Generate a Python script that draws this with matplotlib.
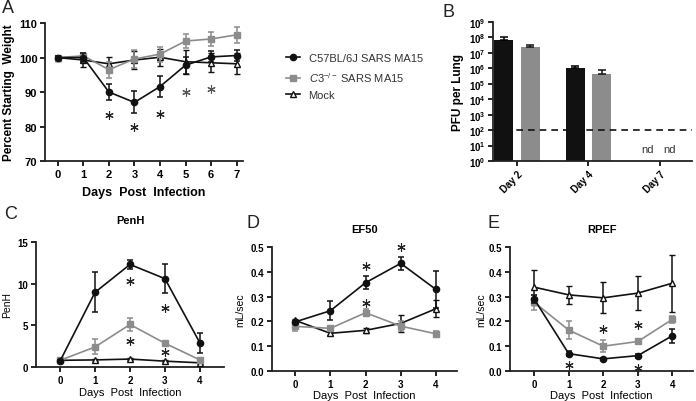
import numpy as np
import matplotlib
matplotlib.use('Agg')
import matplotlib.pyplot as plt
from matplotlib.lines import Line2D

plt.rcParams['font.family'] = ['Liberation Sans', 'DejaVu Sans']
plt.rcParams['mathtext.fontset'] = 'custom'
plt.rcParams['mathtext.rm'] = 'Liberation Sans'
plt.rcParams['mathtext.it'] = 'Liberation Sans:italic'
plt.rcParams['mathtext.bf'] = 'Liberation Sans:bold'

# ---- data ----
days_a = [0, 1, 2, 3, 4, 5, 6, 7]
wt_b6 = [100, 100, 90.0, 87.0, 91.6, 97.8, 100.2, 100.6]
wt_b6_err = [0.5, 1.2, 2.3, 3.2, 3.0, 2.5, 1.6, 1.6]
wt_c3 = [100, 100.5, 96.5, 99.6, 101.0, 104.8, 105.4, 106.6]
wt_c3_err = [0.5, 0.8, 2.3, 2.5, 2.2, 2.0, 2.0, 2.4]
wt_mock = [100, 99.3, 98.2, 99.3, 100.1, 98.8, 98.5, 98.2]
wt_mock_err = [0.5, 2.0, 2.0, 2.6, 2.5, 3.5, 2.8, 3.0]
star_a_x = [2, 3, 4, 5, 6]
star_a_y = [83.3, 80.0, 83.6, 90.0, 91.0]
star_a_col = ['#222222', '#222222', '#222222', '#555555', '#555555']

pfu_days = ['Day 2', 'Day 4', 'Day 7']
pfu_b6 = [6.6e7, 1.0e6]
pfu_b6_err = [3.4e7, 4.0e5]
pfu_c3 = [2.4e7, 4.0e5]
pfu_c3_err = [1.0e7, 3.6e5]
pfu_limit = 100

days = [0, 1, 2, 3, 4]
penh_b6 = [0.72, 8.96, 12.3, 10.6, 2.9]
penh_b6_err = [0.1, 2.4, 0.5, 1.7, 1.2]
penh_c3 = [0.8, 2.4, 5.1, 2.85, 0.85]
penh_c3_err = [0.1, 0.9, 0.8, 0.2, 0.1]
penh_mock = [0.8, 0.85, 0.95, 0.7, 0.5]
penh_mock_err = [0.1, 0.1, 0.1, 0.1, 0.1]
star_c_x = [2, 2, 3, 3]
star_c_y = [10.3, 3.1, 7.1, 1.85]

ef_b6 = [0.198, 0.243, 0.356, 0.434, 0.329]
ef_b6_err = [0.005, 0.038, 0.027, 0.027, 0.074]
ef_c3 = [0.18, 0.172, 0.235, 0.181, 0.15]
ef_c3_err = [0.02, 0.008, 0.015, 0.02, 0.013]
ef_mock = [0.204, 0.152, 0.164, 0.192, 0.251]
ef_mock_err = [0.005, 0.005, 0.01, 0.035, 0.035]
star_d_x = [2, 2, 3]
star_d_y = [0.423, 0.275, 0.5]

rp_b6 = [0.29, 0.07, 0.049, 0.062, 0.142]
rp_b6_err = [0.015, 0.01, 0.004, 0.008, 0.028]
rp_c3 = [0.277, 0.165, 0.1, 0.119, 0.208]
rp_c3_err = [0.03, 0.035, 0.025, 0.005, 0.015]
rp_mock = [0.338, 0.307, 0.295, 0.314, 0.354]
rp_mock_err = [0.07, 0.035, 0.063, 0.068, 0.115]
star_e_x = [1, 2, 3, 3]
star_e_y = [0.023, 0.169, 0.185, 0.012]

GRAY = '#8c8c8c'
BLACK = '#111111'


# axes look of GraphPad prism
def style_axes(ax, tsize=7):
    for s in ['top', 'right']:
        ax.spines[s].set_visible(False)
    for s in ['left', 'bottom']:
        ax.spines[s].set_linewidth(1.3)
        ax.spines[s].set_color('#222222')
    ax.tick_params(direction='out', length=3.5, width=1.2, labelsize=tsize, pad=2)
    for lab in ax.get_xticklabels() + ax.get_yticklabels():
        lab.set_fontweight('bold')


# three series with error bars
def plot_series(ax, x, b6, b6e, c3, c3e, mock, mocke):
    kw = dict(lw=1.2, capsize=2.5, elinewidth=1.1, capthick=1.1)
    ax.errorbar(x, mock, yerr=mocke, color=BLACK, marker='^', ms=5,
                mfc='white', mec=BLACK, mew=1.0, zorder=3, **kw)
    ax.errorbar(x, c3, yerr=c3e, color=GRAY, marker='s', ms=4.5,
                mec=GRAY, zorder=4, **kw)
    ax.errorbar(x, b6, yerr=b6e, color=BLACK, marker='o', ms=4.5,
                zorder=5, **kw)


def stars(ax, xs, ys, cols=None):
    for i in range(len(xs)):
        c = cols[i] if cols else '#222222'
        ax.plot(xs[i], ys[i], marker=(6, 2, 0), ms=6, mew=0.8, color=c,
                linestyle='none', clip_on=False, zorder=6)


fig = plt.figure(figsize=(6.96, 4.02), dpi=100)

# ---- A ----
ax = fig.add_axes([0.0647, 0.597, 0.2845, 0.343])
plot_series(ax, days_a, wt_b6, wt_b6_err, wt_c3, wt_c3_err, wt_mock, wt_mock_err)
stars(ax, star_a_x, star_a_y, star_a_col)
ax.set_xlim(-0.5, 7.25)
ax.set_ylim(70, 110)
ax.set_xticks(days_a)
ax.set_yticks([70, 80, 90, 100, 110])
ax.set_xlabel('Days  Post  Infection', fontsize=9, fontweight='bold', labelpad=5)
ax.set_ylabel('Percent Starting  Weight', fontsize=8.5, fontweight='bold', labelpad=3)
style_axes(ax, 8)

handles = [Line2D([], [], color=BLACK, marker='o', ms=4.5, lw=1.2),
           Line2D([], [], color=GRAY, marker='s', ms=4.5, lw=1.2),
           Line2D([], [], color=BLACK, marker='^', ms=5, mfc='white', lw=1.2)]
labels = ['C57BL/6J SARS MA15', r'$\mathit{C3}^{\mathit{-/-}}$ SARS MA15', 'Mock']
fig.legend(handles, labels, loc='upper left', bbox_to_anchor=(0.397, 0.89),
           frameon=False, fontsize=8, handlelength=1.2, handletextpad=0.8,
           labelspacing=0.6, labelcolor='#333333')

# ---- B ----
ax = fig.add_axes([0.7083, 0.597, 0.2859, 0.3458])
xb = np.arange(len(pfu_days))
w = 0.27
ax.bar(xb[:2] - 0.185, pfu_b6, w, color=BLACK,
       yerr=[[0, 0], pfu_b6_err], capsize=3, error_kw=dict(lw=1.1, capthick=1.1))
ax.bar(xb[:2] + 0.185, pfu_c3, w, color=GRAY,
       yerr=[[0, 0], pfu_c3_err], capsize=3, error_kw=dict(lw=1.1, capthick=1.1, ecolor=BLACK))
ax.axhline(pfu_limit, color=BLACK, lw=1.2, ls=(0, (4, 3)))
ax.text(xb[2] - 0.17, 10**0.8, 'nd', ha='center', va='center', fontsize=8, color='#333333')
ax.text(xb[2] + 0.14, 10**0.8, 'nd', ha='center', va='center', fontsize=8, color='#333333')
ax.set_yscale('log')
ax.set_ylim(1, 1e9)
ax.set_xlim(-0.336, 2.45)
ax.set_yticks([10**k for k in range(10)])
ax.set_yticklabels([r'$\mathbf{10^{%d}}$' % k for k in range(10)])
ax.set_xticks(xb)
ax.set_xticklabels(pfu_days, rotation=45, ha='right', rotation_mode='anchor')
ax.set_ylabel('PFU per Lung', fontsize=8.5, fontweight='bold', labelpad=3)
style_axes(ax, 7)
ax.tick_params(axis='y', which='minor', length=2, width=0.8)

# ---- C ----
ax = fig.add_axes([0.0517, 0.0846, 0.2701, 0.311])
plot_series(ax, days, penh_b6, penh_b6_err, penh_c3, penh_c3_err, penh_mock, penh_mock_err)
stars(ax, star_c_x, star_c_y)
ax.set_xlim(-0.69, 4.69)
ax.set_ylim(0, 15)
ax.set_xticks(days)
ax.set_yticks([0, 5, 10, 15])
ax.set_title('PenH', fontsize=8, fontweight='bold', pad=14)
ax.set_xlabel('Days  Post  Infection', fontsize=8, labelpad=2)
ax.set_ylabel('PenH', fontsize=7.5, labelpad=4)
style_axes(ax)

# ---- D ----
ax = fig.add_axes([0.3908, 0.0746, 0.2658, 0.3085])
plot_series(ax, days, ef_b6, ef_b6_err, ef_c3, ef_c3_err, ef_mock, ef_mock_err)
stars(ax, star_d_x, star_d_y)
ax.set_xlim(-0.66, 4.6)
ax.set_ylim(0, 0.5)
ax.set_xticks(days)
ax.set_yticks([0, 0.1, 0.2, 0.3, 0.4, 0.5])
ax.set_yticklabels(['0.0', '0.1', '0.2', '0.3', '0.4', '0.5'])
ax.set_title('EF50', fontsize=8, fontweight='bold', pad=11)
ax.set_xlabel('Days  Post  Infection', fontsize=8, labelpad=1)
ax.set_ylabel('mL/sec', fontsize=7.5, labelpad=4)
style_axes(ax)

# ---- E ----
ax = fig.add_axes([0.7328, 0.0746, 0.2629, 0.3085])
plot_series(ax, days, rp_b6, rp_b6_err, rp_c3, rp_c3_err, rp_mock, rp_mock_err)
stars(ax, star_e_x, star_e_y)
ax.set_xlim(-0.7, 4.6)
ax.set_ylim(0, 0.5)
ax.set_xticks(days)
ax.set_yticks([0, 0.1, 0.2, 0.3, 0.4, 0.5])
ax.set_yticklabels(['0.0', '0.1', '0.2', '0.3', '0.4', '0.5'])
ax.set_title('RPEF', fontsize=8, fontweight='bold', pad=11)
ax.set_xlabel('Days  Post  Infection', fontsize=8, labelpad=1)
ax.set_ylabel('mL/sec', fontsize=7.5, labelpad=2)
style_axes(ax)

# panel letters
for lab, x, y in [('A', 0.003, 1.0), ('B', 0.636, 0.99), ('C', 0.006, 0.487),
                  ('D', 0.354, 0.465), ('E', 0.700, 0.465)]:
    fig.text(x, y, lab, fontsize=13, va='top', ha='left', color='#222222')

fig.savefig('out.png', dpi=100)
